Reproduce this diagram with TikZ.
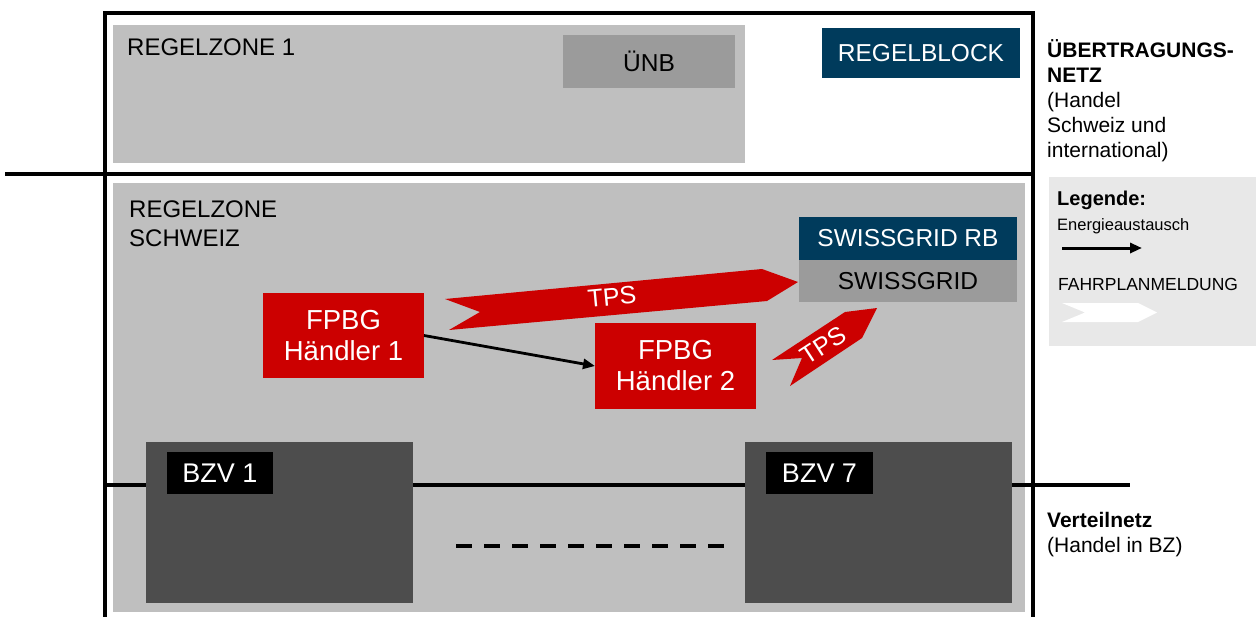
\documentclass[tikz,border=0pt]{standalone}
\usepackage{fontspec}
\setmainfont{Liberation Sans}
\usetikzlibrary{arrows.meta}
\definecolor{zonegray}{HTML}{BFBFBF}
\definecolor{midgray}{HTML}{9B9B9B}
\definecolor{navy}{HTML}{003B5C}
\definecolor{fpred}{HTML}{CC0000}
\definecolor{darkbox}{HTML}{4D4D4D}
\definecolor{leggray}{HTML}{E8E8E8}
\tikzset{
  area/.style={draw=none, inner sep=0, outer sep=0},
  zone/.style={area, fill=zonegray},
  midbox/.style={area, fill=midgray, text=black, font=\fontsize{24.5}{28}\selectfont},
  navybox/.style={area, fill=navy, text=white, font=\fontsize{24.5}{28}\selectfont},
  redbox/.style={area, fill=fpred, text=white, align=center, font=\fontsize{27.5}{31}\selectfont},
  bzvbox/.style={area, fill=darkbox},
  bzvlabel/.style={area, fill=black, text=white, font=\fontsize{27}{30}\selectfont},
  zonetext/.style={inner sep=0, anchor=base west, font=\fontsize{24}{29}\selectfont},
  sidetext/.style={inner sep=0, anchor=base west, font=\fontsize{21}{25}\selectfont},
  legtext/.style={inner sep=0, anchor=base west, font=\fontsize{17.5}{21}\selectfont},
  frame/.style={line width=4pt, black},
  netline/.style={line width=4.5pt, black},
  tps/.style={fill=fpred, draw=none},
  tpstext/.style={text=white, inner sep=0, font=\fontsize{25}{28}\selectfont},
}
\begin{document}
\begin{tikzpicture}[x=1pt, y=-1pt]
\useasboundingbox (0,0) rectangle (1256,616);
% outer frame and network lines
\coordinate (fbl) at (105,618);
\coordinate (ftl) at (105,13);
\coordinate (ftr) at (1033,13);
\coordinate (fbr) at (1033,618);
\draw[frame] (fbl) -- (ftl) -- (ftr) -- (fbr);
\coordinate (hl) at (5,174);
\coordinate (hr) at (1033,174);
\draw[netline] (hl) -- (hr);
% zones
\node[zone, minimum width=632, minimum height=138] (rz1) at (429,94) {};
\node[zonetext] (rz1t) at (127,55) {REGELZONE 1};
\node[midbox, minimum width=172, minimum height=53] (uenb) at (649,61.5) {ÜNB};
\node[navybox, minimum width=198, minimum height=50] (rb) at (921,53) {REGELBLOCK};
\node[zone, minimum width=912, minimum height=429] (rzch) at (569,397.5) {};
\node[zonetext, align=left] (rzcht) at (129,246) {REGELZONE\\SCHWEIZ};
\node[navybox, minimum width=218, minimum height=43] (sgrb) at (908,238.5) {SWISSGRID RB};
\node[midbox, minimum width=218, minimum height=42] (sg) at (908,281) {SWISSGRID};
% side texts
\node[sidetext, align=left] (uet) at (1047,157) {\textbf{ÜBERTRAGUNGS-}\\\textbf{NETZ}\\(Handel\\Schweiz und\\international)};
\node[sidetext, align=left] (vnt) at (1047,552) {\textbf{Verteilnetz}\\(Handel in BZ)};
% distribution network line
\coordinate (vl) at (107,485);
\coordinate (vr) at (1130,485);
\draw[netline] (vl) -- (vr);
% BZV boxes
\node[bzvbox, minimum width=267, minimum height=161] (bzv1) at (279.5,522.5) {};
\node[bzvlabel, minimum width=106, minimum height=42] (bzv1l) at (220,473) {BZV 1};
\node[bzvbox, minimum width=267, minimum height=161] (bzv7) at (878.5,522.5) {};
\node[bzvlabel, minimum width=107, minimum height=42] (bzv7l) at (819.5,473) {BZV 7};
\coordinate (da) at (456,546);
\coordinate (db) at (728,546);
\draw[line width=4pt, dash pattern=on 16pt off 12pt] (da) -- (db);
% traders
\node[redbox, minimum width=161, minimum height=85] (h1) at (343.5,335.5) {FPBG\\Händler 1};
\node[redbox, minimum width=161, minimum height=86] (h2) at (675.5,366) {FPBG\\Händler 2};
\draw[line width=2.8pt, -{Triangle[length=12pt,width=10pt]}] (h1.east) -- (h2.west);
% TPS arrows
\fill[tps] (445,299) -- (480,312) -- (449,330) -- (767,301) -- (798,282) -- (762,269) -- cycle;
\node[tpstext, rotate=5.4] (tps1) at (612,297) {TPS};
\fill[tps] (772,360) -- (802,358) -- (790,386) -- (862,338) -- (877,308) -- (845,312) -- cycle;
\node[tpstext, rotate=33] (tps2) at (823,345) {TPS};
% legend
\node[area, fill=leggray, minimum width=207, minimum height=169] (leg) at (1152.5,261.5) {};
\node[inner sep=0, anchor=base west, font=\fontsize{20}{24}\selectfont\bfseries] (legt) at (1057,205) {Legende:};
\node[inner sep=0, anchor=base west, font=\fontsize{16.5}{20}\selectfont] (lege) at (1057,230) {Energieaustausch};
\coordinate (la) at (1062,248);
\coordinate (lb) at (1142,248);
\draw[line width=3pt, -{Triangle[length=12pt,width=10pt]}] (la) -- (lb);
\node[legtext] (legf) at (1058,290) {FAHRPLANMELDUNG};
\fill[white] (1062,303) -- (1085,312.5) -- (1062,322) -- (1138,322) -- (1157,312.5) -- (1138,303) -- cycle;
\end{tikzpicture}
\end{document}
